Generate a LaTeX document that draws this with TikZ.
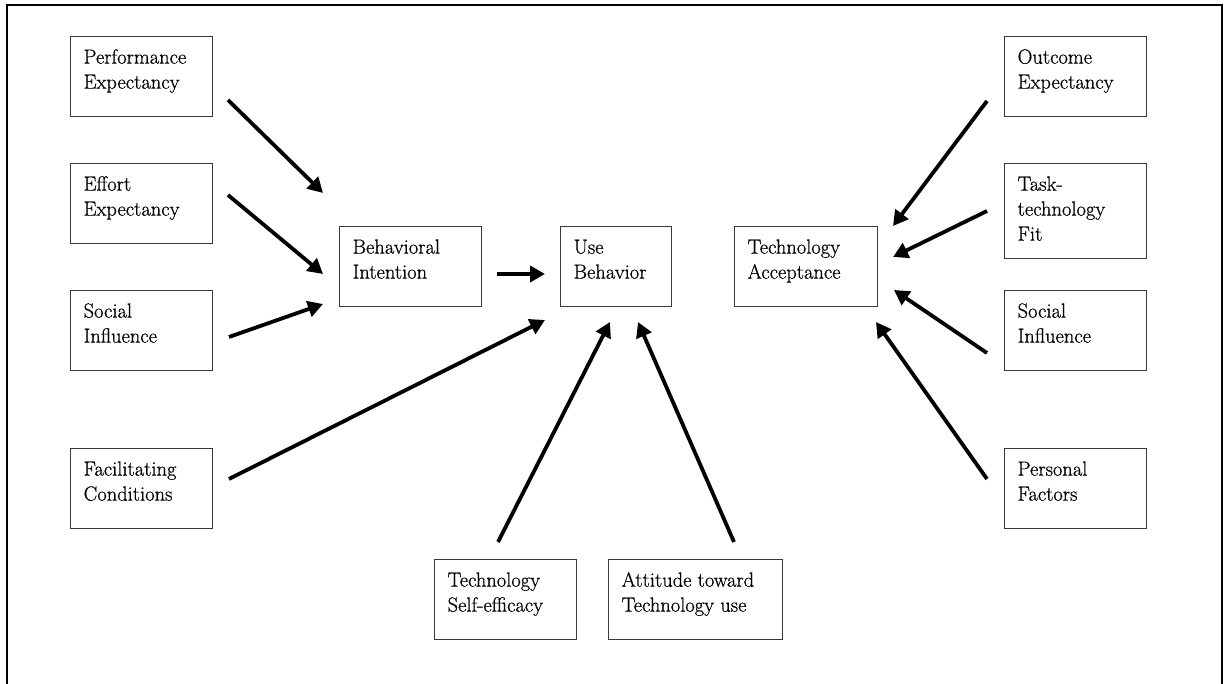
\documentclass[tikz,border=0pt]{standalone}
\usepackage{fontspec}
\usetikzlibrary{arrows.meta}
\newfontfamily\boxfont{Latin Modern Roman}[FakeBold=0.7]
\newcommand\boxtext[3]{\parbox[t][#2pt][t]{#1pt}{\raggedright\leftskip=13pt\rule{0pt}{27pt}#3}}
\tikzset{
  box/.style={draw=black!78, line width=1.3pt, inner sep=0pt, anchor=north west,
    font=\boxfont\fontsize{20.5}{25}\selectfont},
  arr/.style={line width=3.8pt, -{Triangle[length=15pt,width=16pt]}},
  frame/.style={line width=2.6pt}
}
\begin{document}
\begin{tikzpicture}[x=1pt,y=-1pt]
\useasboundingbox (0,0) rectangle (1228,684);
% open frame (no bottom edge)
\draw[frame] (7,684) -- (7,5) -- (1222,5) -- (1222,684);

% left column
\node[box] (pe) at (70,36)  {\boxtext{142}{80}{Performance\\Expectancy}};
\node[box] (ee) at (70,163) {\boxtext{142}{80}{Effort\\Expectancy}};
\node[box] (si) at (70,290) {\boxtext{142}{80}{Social\\Influence}};
\node[box] (fc) at (70,448) {\boxtext{142}{80}{Facilitating\\Conditions}};

% middle row
\node[box] (bi) at (339,226) {\boxtext{142}{80}{Behavioral\\Intention}};
\node[box] (ub) at (560,226) {\boxtext{111}{80}{Use\\Behavior}};
\node[box] (ta) at (734,226) {\boxtext{143}{80}{Technology\\Acceptance}};

% bottom row
\node[box] (tse) at (434,559) {\boxtext{142}{80}{Technology\\Self-efficacy}};
\node[box] (att) at (608,559) {\boxtext{174}{80}{Attitude toward\\Technology use}};

% right column
\node[box] (oe)  at (1004,36)  {\boxtext{142}{80}{Outcome\\Expectancy}};
\node[box] (ttf) at (1004,163) {\boxtext{142}{95}{Task-\\technology\\Fit}};
\node[box] (sir) at (1004,290) {\boxtext{142}{80}{Social\\Influence}};
\node[box] (pf)  at (1004,448) {\boxtext{142}{80}{Personal\\Factors}};

% arrow end points
\coordinate (pe-s) at (228,100);  \coordinate (pe-e) at (323,193);
\coordinate (ee-s) at (228,195);  \coordinate (ee-e) at (323,274);
\coordinate (si-s) at (229,337);  \coordinate (si-e) at (323,304);
\coordinate (bi-s) at (497,274);  \coordinate (bi-e) at (545,274);
\coordinate (fc-s) at (229,479);  \coordinate (fc-e) at (545,320);
\coordinate (tse-s) at (498,542); \coordinate (tse-e) at (610,322);
\coordinate (att-s) at (734,542); \coordinate (att-e) at (638,322);
\coordinate (oe-s) at (987,101);  \coordinate (oe-e) at (893,226);
\coordinate (ttf-s) at (987,211); \coordinate (ttf-e) at (893,257);
\coordinate (sir-s) at (987,353); \coordinate (sir-e) at (894,290);
\coordinate (pf-s) at (987,479);  \coordinate (pf-e) at (876,322);

\foreach \a in {pe,ee,si,bi,fc,tse,att,oe,ttf,sir,pf}
  \draw[arr] (\a-s) -- (\a-e);
\end{tikzpicture}
\end{document}
